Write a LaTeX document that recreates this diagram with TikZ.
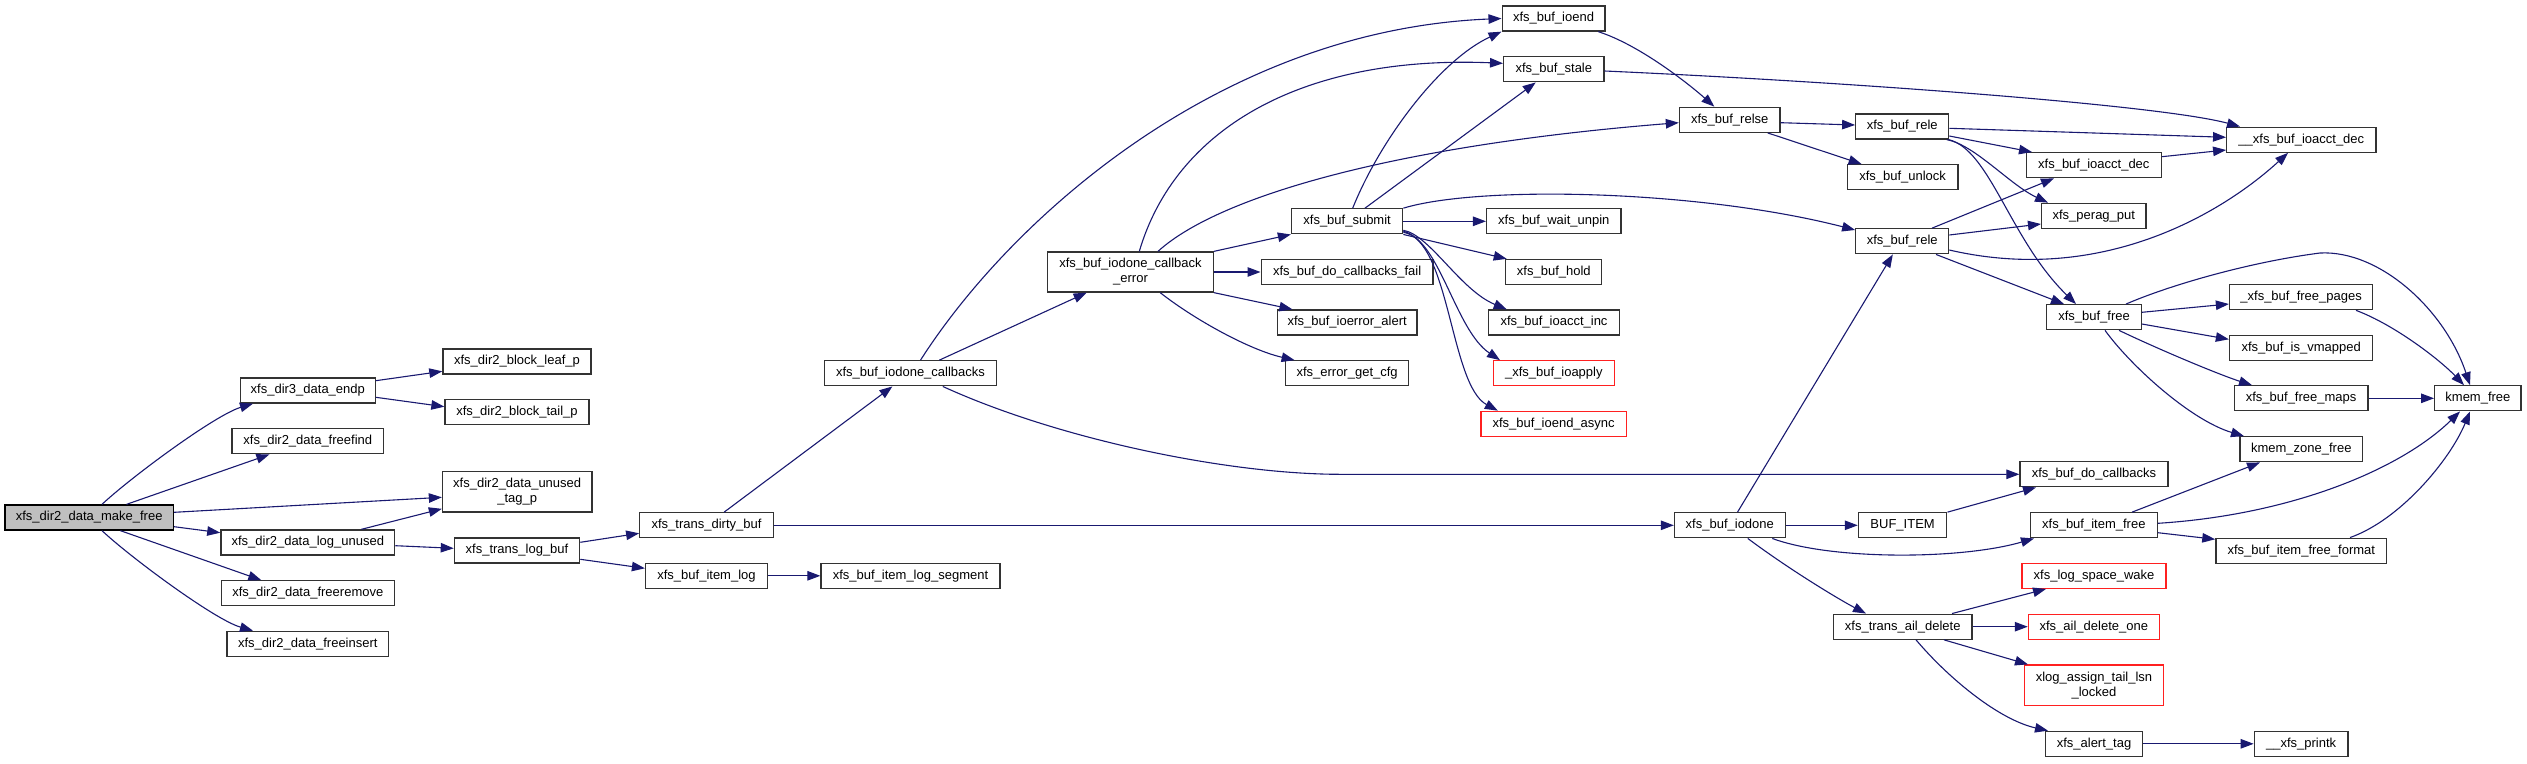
\documentclass[tikz,border=0pt]{standalone}
\usepackage{fontspec}
\setmainfont{Liberation Sans}
\usetikzlibrary{arrows.meta}
\definecolor{midnight}{HTML}{191970}
\definecolor{bord}{HTML}{333333}
\definecolor{rootfill}{HTML}{BFBFBF}
\definecolor{truncred}{HTML}{FF2020}
\tikzset{
  fn/.style={draw=bord, line width=1.3pt, fill=white, rectangle, inner sep=0pt,
    minimum height=25pt, align=center, font=\fontsize{13pt}{15pt}\selectfont},
  bw/.style={minimum width=#1pt},
  tall/.style={minimum height=40.3pt},
  rootbox/.style={fill=rootfill, draw=black},
  redbox/.style={draw=truncred},
  cl/.style={draw=midnight, line width=1.1pt, -{Triangle[length=13pt,width=9.5pt]}}
}
\begin{document}
\begin{tikzpicture}[x=1pt,y=-1pt]
\useasboundingbox (0,0) rectangle (2527,763);
% nodes
\node[fn,bw=168.6,rootbox] (mf) at (89.2,517.5) {xfs\_dir2\_data\_make\_free};
\node[fn,bw=134.7] (endp) at (307.8,390.5) {xfs\_dir3\_data\_endp};
\node[fn,bw=151.8] (ffind) at (307.8,441.3) {xfs\_dir2\_data\_freefind};
\node[fn,bw=173.9] (logun) at (307.8,542.5) {xfs\_dir2\_data\_log\_unused};
\node[fn,bw=173] (frem) at (307.8,593.3) {xfs\_dir2\_data\_freeremove};
\node[fn,bw=161.6] (fins) at (307.8,643.8) {xfs\_dir2\_data\_freeinsert};
\node[fn,bw=148.2] (leafp) at (517,361.5) {xfs\_dir2\_block\_leaf\_p};
\node[fn,bw=144] (tailp) at (517,411.7) {xfs\_dir2\_block\_tail\_p};
\node[fn,bw=149.4,tall] (tagp) at (517.2,491.8) {xfs\_dir2\_data\_unused\\\_tag\_p};
\node[fn,bw=125.3] (tlb) at (517,550.5) {xfs\_trans\_log\_buf};
\node[fn,bw=133.5] (tdb) at (706.5,525.3) {xfs\_trans\_dirty\_buf};
\node[fn,bw=121.9] (bil) at (706.5,575.8) {xfs\_buf\_item\_log};
\node[fn,bw=179] (bils) at (910.5,575.8) {xfs\_buf\_item\_log\_segment};
\node[fn,bw=171.9] (idc) at (910.5,373.3) {xfs\_buf\_iodone\_callbacks};
\node[fn,bw=165.6,minimum height=40pt] (cbe) at (1130.5,272) {xfs\_buf\_iodone\_callback\\\_error};
\node[fn,bw=102.7] (ioend) at (1553.5,18.5) {xfs\_buf\_ioend};
\node[fn,bw=100.4] (stale) at (1553.8,69.3) {xfs\_buf\_stale};
\node[fn,bw=100.5] (relse) at (1729.7,119.8) {xfs\_buf\_relse};
\node[fn,bw=92.9] (relea) at (1902.2,126.5) {xfs\_buf\_rele};
\node[fn,bw=110.7] (unlock) at (1902.6,177.2) {xfs\_buf\_unlock};
\node[fn,bw=111.2] (submit) at (1347.1,221.3) {xfs\_buf\_submit};
\node[fn,bw=134.4] (unpin) at (1553.8,221.3) {xfs\_buf\_wait\_unpin};
\node[fn,bw=92.9] (releb) at (1902.2,241.3) {xfs\_buf\_rele};
\node[fn,bw=171.9] (cbfail) at (1347.1,272) {xfs\_buf\_do\_callbacks\_fail};
\node[fn,bw=96] (hold) at (1553.8,272) {xfs\_buf\_hold};
\node[fn,bw=139.7] (ioerr) at (1347.1,322.5) {xfs\_buf\_ioerror\_alert};
\node[fn,bw=130.4] (inc) at (1554,322.5) {xfs\_buf\_ioacct\_inc};
\node[fn,bw=122.8] (cfg) at (1347.1,373.3) {xfs\_error\_get\_cfg};
\node[fn,bw=121,redbox] (ioapply) at (1553.8,373.3) {\_xfs\_buf\_ioapply};
\node[fn,bw=145.5,redbox] (async) at (1553.6,423.8) {xfs\_buf\_ioend\_async};
\node[fn,bw=110.7] (iodone) at (1729.8,525.3) {xfs\_buf\_iodone};
\node[fn,bw=88.4] (bufitem) at (1902.6,525.3) {BUF\_ITEM};
\node[fn,bw=138.5] (aild) at (1902.7,626.7) {xfs\_trans\_ail\_delete};
\node[fn,bw=149.2] (uacd) at (2301.3,139.7) {\_\_xfs\_buf\_ioacct\_dec};
\node[fn,bw=134.8] (acd) at (2093.8,165.2) {xfs\_buf\_ioacct\_dec};
\node[fn,bw=104.4] (perag) at (2093.8,215.8) {xfs\_perag\_put};
\node[fn,bw=94.4] (bfree) at (2094,317.2) {xfs\_buf\_free};
\node[fn,bw=143.2] (fpages) at (2301.1,297.2) {\_xfs\_buf\_free\_pages};
\node[fn,bw=143.2] (vmap) at (2301.1,347.8) {xfs\_buf\_is\_vmapped};
\node[fn,bw=133.6] (fmaps) at (2301.1,398.3) {xfs\_buf\_free\_maps};
\node[fn,bw=86.4] (kfree) at (2477.9,398.3) {kmem\_free};
\node[fn,bw=122.8] (kzfree) at (2301.3,449.3) {kmem\_zone\_free};
\node[fn,bw=148] (docb) at (2094,474.3) {xfs\_buf\_do\_callbacks};
\node[fn,bw=126.8] (ifree) at (2093.8,525.3) {xfs\_buf\_item\_free};
\node[fn,bw=170.8] (iffmt) at (2301.3,550.7) {xfs\_buf\_item\_free\_format};
\node[fn,bw=144,redbox] (lsw) at (2094,575.8) {xfs\_log\_space\_wake};
\node[fn,bw=130.8,redbox] (ado) at (2093.8,626.7) {xfs\_ail\_delete\_one};
\node[fn,bw=138.4,tall,redbox] (xlog) at (2094,685.2) {xlog\_assign\_tail\_lsn\\\_locked};
\node[fn,bw=97.5] (alert) at (2094,743.8) {xfs\_alert\_tag};
\node[fn,bw=93.6] (printk) at (2301.1,743.8) {\_\_xfs\_printk};
% edges
\draw[cl] ([xshift=12.8pt]mf.north) .. controls (130,478) and (215,415) .. ([xshift=-54.8pt]endp.south);
\draw[cl] ([xshift=37.3pt]mf.north) -- ([xshift=-38.4pt]ffind.south);
\draw[cl] ([yshift=5.2pt]mf.east) -- ([yshift=-5.5pt]tagp.west);
\draw[cl] ([yshift=-9.2pt]mf.east) -- ([yshift=9.8pt]logun.west);
\draw[cl] ([xshift=31.2pt]mf.south) -- ([xshift=-46.5pt]frem.north);
\draw[cl] ([xshift=12.8pt]mf.south) .. controls (130,557) and (215,620) .. ([xshift=-54.8pt]fins.north);
\draw[cl] ([yshift=9.8pt]endp.east) -- ([yshift=-9.8pt]leafp.west);
\draw[cl] ([yshift=-6.8pt]endp.east) -- ([yshift=5pt]tailp.west);
\draw[cl] ([xshift=53.5pt]logun.north) -- ([yshift=-17pt]tagp.west);
\draw[cl] ([yshift=-3.2pt]logun.east) -- ([yshift=2.2pt]tlb.west);
\draw[cl] ([yshift=8.2pt]tlb.east) -- ([yshift=-8pt]tdb.west);
\draw[cl] ([yshift=-8.8pt]tlb.east) -- ([yshift=7.5pt]bil.west);
\draw[cl] (bil.east) -- (bils.west);
\draw[cl] ([xshift=17.6pt]tdb.north) -- ([xshift=-18.1pt]idc.south);
\draw[cl] (tdb.east) -- (iodone.west);
\draw[cl] ([xshift=10pt]idc.north) .. controls (1010,220) and (1220,30) .. (ioend.west);
\draw[cl] ([xshift=28.8pt]idc.north) -- ([xshift=-43.9pt]cbe.south);
\draw[cl] ([xshift=32.3pt]idc.south) .. controls (1060,440) and (1230,474.3) .. (1340,474.3) -- (docb.west);
\draw[cl] ([xshift=8.8pt]cbe.north) .. controls (1175,130) and (1300,55) .. ([yshift=6pt]stale.west);
\draw[cl] ([xshift=27.5pt]cbe.north) .. controls (1220,195) and (1400,145) .. ([yshift=-2.9pt]relse.west);
\draw[cl] (cbe.north east) -- (submit.south west);
\draw[cl] (cbe.east) -- (cbfail.west);
\draw[cl] (cbe.south east) -- ([xshift=-54.7pt]ioerr.north);
\draw[cl] ([xshift=29.7pt]cbe.south) .. controls (1195,320) and (1250,350) .. ([xshift=-52.5pt]cfg.north);
\draw[cl] ([xshift=5.6pt]submit.north) .. controls (1380,140) and (1440,60) .. (ioend.south west);
\draw[cl] ([xshift=17.9pt]submit.north) -- ([xshift=-18.1pt]stale.south);
\draw[cl] (submit.east) -- (unpin.west);
\draw[cl] (submit.south east) -- ([xshift=-47.1pt]hold.north);
\draw[cl] ([yshift=-9pt]submit.east) .. controls (1430,235) and (1460,290) .. ([xshift=-47.3pt]inc.north);
\draw[cl] ([yshift=-10pt]submit.east) .. controls (1440,240) and (1455,330) .. ([xshift=-53.8pt]ioapply.north);
\draw[cl] ([yshift=-11pt]submit.east) .. controls (1450,240) and (1450,385) .. ([xshift=-55.8pt]async.north);
\draw[cl] (submit.north east) .. controls (1480,185) and (1700,190) .. ([yshift=11.3pt]releb.west);
\draw[cl] ([xshift=44.7pt]ioend.south) .. controls (1640,45) and (1690,85) .. ([xshift=-15.4pt]relse.north);
\draw[cl] ([yshift=-1.7pt]stale.east) .. controls (1850,82) and (2160,105) .. ([xshift=-61.3pt]uacd.north);
\draw[cl] ([yshift=-2.9pt]relse.east) -- ([yshift=1.5pt]relea.west);
\draw[cl] ([xshift=38.1pt]relse.south) -- ([xshift=-41pt]unlock.north);
\draw[cl] ([yshift=-1.8pt]relea.east) -- ([yshift=2.4pt]uacd.west);
\draw[cl] ([yshift=-9.5pt]relea.east) -- ([xshift=-61.8pt]acd.north);
\draw[cl] ([xshift=-2.5pt]relea.south east) .. controls (1975,145) and (2010,185) .. ([xshift=-45.8pt]perag.north);
\draw[cl] ([xshift=-0.5pt]relea.south east) .. controls (1990,150) and (2010,240) .. ([xshift=-18pt]bfree.north);
\draw[cl] ([xshift=29.8pt]releb.north) -- ([xshift=-39.8pt]acd.south);
\draw[cl] ([yshift=6.3pt]releb.east) -- ([yshift=-8.2pt]perag.west);
\draw[cl] ([yshift=-8.7pt]releb.east) .. controls (2100,285) and (2220,215) .. ([xshift=-13.3pt]uacd.south);
\draw[cl] ([xshift=33.8pt]releb.south) -- ([xshift=-30pt]bfree.north);
\draw[cl] ([yshift=8.5pt]acd.east) -- ([yshift=-10.3pt]uacd.west);
\draw[cl] ([xshift=32pt]bfree.north) .. controls (2170,285) and (2250,262) .. (2320,253) .. controls (2380,250) and (2445,310) .. ([xshift=-7.9pt]kfree.north);
\draw[cl] ([yshift=4.9pt]bfree.east) -- ([yshift=-6.8pt]fpages.west);
\draw[cl] ([yshift=-6.8pt]bfree.east) -- ([yshift=8.5pt]vmap.west);
\draw[cl] ([xshift=25pt]bfree.south) .. controls (2160,350) and (2220,375) .. ([xshift=-49.1pt]fmaps.north);
\draw[cl] ([xshift=11pt]bfree.south) .. controls (2130,365) and (2190,420) .. ([xshift=-57.3pt]kzfree.north);
\draw[cl] ([xshift=54.9pt]fpages.south) .. controls (2395,325) and (2440,360) .. ([xshift=-13.9pt]kfree.north);
\draw[cl] (fmaps.east) -- (kfree.west);
\draw[cl] ([xshift=7.7pt]iodone.north) -- ([xshift=-9.4pt]releb.south);
\draw[cl] (iodone.east) -- (bufitem.west);
\draw[cl] ([xshift=42.5pt]iodone.south) .. controls (1830,560) and (1960,560) .. ([xshift=-59.8pt]ifree.south);
\draw[cl] ([xshift=18pt]iodone.south) .. controls (1790,570) and (1840,600) .. ([xshift=-36.7pt]aild.north);
\draw[cl] (bufitem.north east) -- ([xshift=-58pt]docb.south);
\draw[cl] ([xshift=38.2pt]ifree.north) -- ([xshift=-41.3pt]kzfree.south);
\draw[cl] ([yshift=2pt]ifree.east) .. controls (2290,515) and (2400,470) .. ([xshift=-17.9pt]kfree.south);
\draw[cl] ([yshift=-7.4pt]ifree.east) -- ([yshift=11.4pt]iffmt.west);
\draw[cl] ([xshift=48.7pt]iffmt.north) .. controls (2400,520) and (2450,460) .. ([xshift=-7.9pt]kfree.south);
\draw[cl] ([xshift=49.3pt]aild.north) -- ([xshift=-48pt]lsw.south);
\draw[cl] (aild.east) -- (ado.west);
\draw[cl] ([xshift=41.3pt]aild.south) -- ([xshift=-66pt]xlog.north);
\draw[cl] ([xshift=13.3pt]aild.south) .. controls (1950,680) and (2000,720) .. ([xshift=-46pt]alert.north);
\draw[cl] (alert.east) -- (printk.west);
\end{tikzpicture}
\end{document}
